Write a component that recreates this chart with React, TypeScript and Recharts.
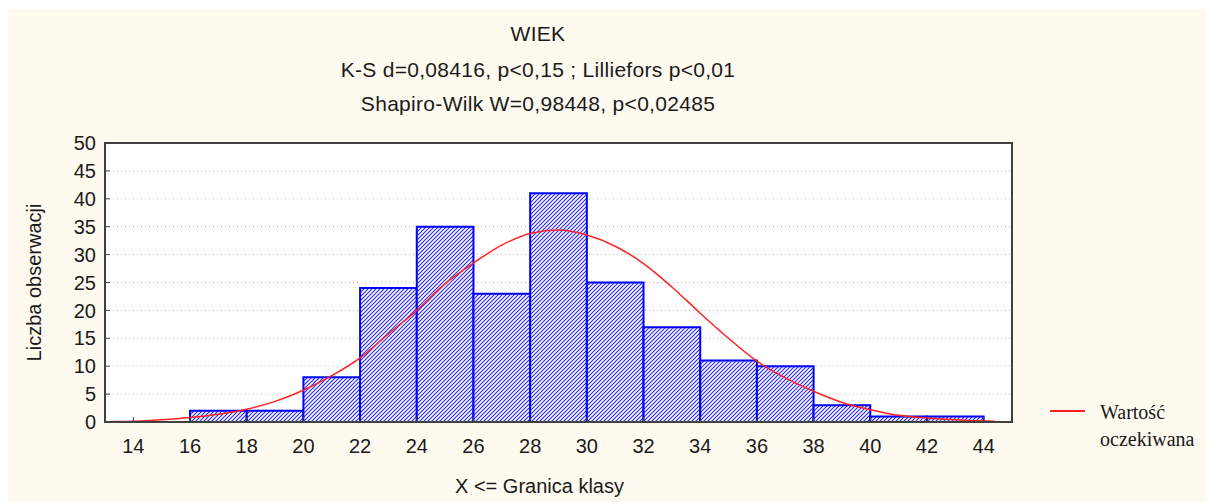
import { ComposedChart, Line, XAxis, YAxis, CartesianGrid, ReferenceArea, Legend, Label } from "recharts";

// histogram bins (class boundaries) and counts
const binEdges = [14, 16, 18, 20, 22, 24, 26, 28, 30, 32, 34, 36, 38, 40, 42, 44];
const binCounts = [0, 2, 2, 8, 24, 35, 23, 41, 25, 17, 11, 10, 3, 1, 1];

// expected (normal) curve
const curveX = [13.3, 14, 15, 16, 17, 18, 19, 20, 21, 22, 23, 24, 25, 26, 27, 28, 29, 30, 31, 32, 33, 34, 35, 36, 37, 38, 39, 40, 41, 42, 43, 44, 44.4];
const curveY = [0.1, 0.15, 0.4, 0.8, 1.4, 2.3, 3.7, 5.7, 8.3, 11.5, 15.8, 20.0, 24.8, 28.5, 31.7, 33.8, 34.4, 33.5, 31.5, 28.4, 24.2, 19.5, 15.0, 10.9, 7.9, 5.5, 3.5, 2.2, 1.2, 0.7, 0.4, 0.2, 0.15];

const xTicks = [14, 16, 18, 20, 22, 24, 26, 28, 30, 32, 34, 36, 38, 40, 42, 44];
const yTicks = [0, 5, 10, 15, 20, 25, 30, 35, 40, 45, 50];

const titleLines = ["WIEK", "K-S d=0,08416, p<0,15 ; Lilliefors p<0,01", "Shapiro-Wilk W=0,98448, p<0,02485"];

const font = "'Liberation Sans', Arial, sans-serif";
const textColor = "#1a1a1a";
const frame = "#404040";

function LegendBox({ payload }: any) {
  const item = payload && payload[0];
  if (!item) return null;
  return (
    <div style={{ display: "flex", alignItems: "flex-start" }}>
      <svg width={44} height={24}>
        <line x1={8} y1={12} x2={43} y2={12} stroke={item.color} strokeWidth={2} />
      </svg>
      <div style={{ marginLeft: 14, width: 110, fontFamily: "'Liberation Serif', serif", fontSize: 20, lineHeight: "27px", color: textColor }}>
        {item.value}
      </div>
    </div>
  );
}

export default function App() {
  const curveData = curveX.map((x, i) => ({ x, y: curveY[i] }));
  const titleTops = [15, 51, 85];

  return (
    <div style={{ position: "relative", width: 1206, height: 493, marginTop: 1, background: "#fffaef", fontFamily: font }}>
      {titleLines.map((t, i) => (
        <div
          key={i}
          style={{
            position: "absolute",
            left: 230,
            width: 600,
            top: titleTops[i],
            textAlign: "center",
            fontSize: 21,
            letterSpacing: 0.3,
            lineHeight: "20px",
            color: textColor,
            whiteSpace: "nowrap",
          }}
        >
          {t}
        </div>
      ))}
      <ComposedChart width={1206} height={493} data={curveData} margin={{ top: 134, right: 202, bottom: 0, left: 0 }}>
        <defs>
          <pattern id="hatch" width="4" height="4" patternUnits="userSpaceOnUse">
            <rect width="4" height="4" fill="#ffffff" />
            <path d="M-1,1 l2,-2 M0,4 l4,-4 M3,5 l2,-2" stroke="#2b2bf5" strokeWidth={1.2} />
          </pattern>
        </defs>
        <CartesianGrid vertical={false} fill="#ffffff" stroke="#b5b5b5" strokeDasharray="1 3" />
        <XAxis
          dataKey="x"
          type="number"
          domain={[13, 45]}
          ticks={xTicks}
          interval={0}
          allowDataOverflow
          height={80}
          tickSize={-5}
          tickMargin={22}
          axisLine={{ stroke: frame, strokeWidth: 2 }}
          tickLine={{ stroke: frame }}
          tick={{ fill: textColor, fontSize: 20, fontFamily: font }}
        >
          <Label value="X <= Granica klasy" position="insideBottom" offset={9} dx={-19} style={{ fill: textColor, fontSize: 20, fontFamily: font }} />
        </XAxis>
        <XAxis
          xAxisId="top"
          orientation="top"
          type="number"
          domain={[13, 45]}
          ticks={xTicks}
          interval={0}
          allowDataOverflow
          height={0}
          mirror
          tick={false}
          tickSize={5}
          axisLine={{ stroke: frame, strokeWidth: 2 }}
          tickLine={{ stroke: frame }}
        />
        <YAxis
          type="number"
          domain={[0, 50]}
          ticks={yTicks}
          interval={0}
          allowDataOverflow
          width={97}
          tickSize={-5}
          tickMargin={14}
          axisLine={{ stroke: frame, strokeWidth: 2 }}
          tickLine={{ stroke: frame }}
          tick={{ fill: textColor, fontSize: 20, fontFamily: font }}
        >
          <Label value="Liczba obserwacji" position="center" angle={-90} dx={-23} style={{ fill: textColor, fontSize: 20, fontFamily: font, textAnchor: "middle" }} />
        </YAxis>
        <YAxis
          yAxisId="right"
          orientation="right"
          type="number"
          domain={[0, 50]}
          ticks={yTicks}
          interval={0}
          allowDataOverflow
          width={0}
          mirror
          tick={false}
          tickSize={5}
          axisLine={{ stroke: frame, strokeWidth: 2 }}
          tickLine={{ stroke: frame }}
        />
        {binCounts.map((c, i) => (
          <ReferenceArea
            key={i}
            x1={binEdges[i]}
            x2={binEdges[i + 1]}
            y1={0}
            y2={c}
            fill="url(#hatch)"
            fillOpacity={1}
            stroke="#0000ff"
            strokeWidth={2}
            ifOverflow="visible"
          />
        ))}
        {/* plot frame */}
        <ReferenceArea
          x1={13}
          x2={45}
          y1={0}
          y2={50}
          fill="none"
          stroke={frame}
          strokeWidth={2}
          ifOverflow="visible"
        />
        <Line
          dataKey="y"
          name="Wartość oczekiwana"
          type="monotone"
          stroke="#ff2020"
          strokeWidth={1.5}
          dot={false}
          activeDot={false}
          isAnimationActive={false}
        />
        <Legend
          layout="horizontal"
          verticalAlign="middle"
          align="center"
          content={<LegendBox />}
          wrapperStyle={{ left: 1034, top: 390, width: 170 }}
        />
      </ComposedChart>
    </div>
  );
}
